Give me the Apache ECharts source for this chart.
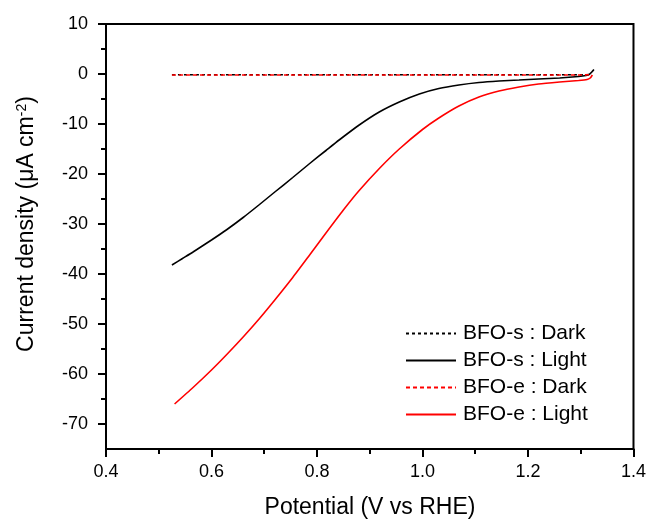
<!DOCTYPE html>
<html>
<head>
<meta charset="utf-8">
<script src="https://cdn.jsdelivr.net/npm/echarts@6/dist/echarts.min.js"></script>
<style>html,body{margin:0;padding:0;background:#fff}#c{width:649px;height:524px}</style>
</head>
<body>
<div id="c"></div>
<script>
// Data
var sDarkX = [0.525, 0.6, 0.7, 0.8, 0.9, 1.0, 1.1, 1.2, 1.3, 1.32];
var sDarkY = [-0.15, -0.15, -0.15, -0.15, -0.15, -0.15, -0.15, -0.15, -0.15, -0.1];
var sLightX = [0.525, 0.545, 0.565, 0.6, 0.628, 0.66, 0.691, 0.72, 0.754, 0.785, 0.817, 0.842, 0.88, 0.918, 0.956, 0.994, 1.031, 1.069, 1.107, 1.145, 1.183, 1.22, 1.26, 1.296, 1.31, 1.316, 1.321, 1.325];
var sLightY = [-38.2, -36.9, -35.6, -33.2, -31.2, -28.7, -26.1, -23.6, -20.7, -18.0, -15.3, -13.2, -10.2, -7.6, -5.6, -4.0, -2.9, -2.2, -1.7, -1.4, -1.2, -1.0, -0.8, -0.5, -0.3, -0.1, 0.4, 0.9];
var eDarkX = [0.525, 0.6, 0.7, 0.8, 0.9, 1.0, 1.1, 1.2, 1.3, 1.32];
var eDarkY = [-0.2, -0.2, -0.2, -0.2, -0.2, -0.2, -0.2, -0.2, -0.2, -0.15];
var eLightX = [0.530, 0.565, 0.6, 0.628, 0.66, 0.691, 0.72, 0.754, 0.786, 0.817, 0.85, 0.88, 0.92, 0.956, 1.0, 1.031, 1.069, 1.107, 1.145, 1.183, 1.22, 1.26, 1.296, 1.312, 1.318, 1.322];
var eLightY = [-66.0, -62.7, -59.2, -56.2, -52.6, -48.9, -45.2, -40.7, -36.2, -31.8, -27.2, -23.3, -18.7, -15.0, -11.1, -8.8, -6.4, -4.6, -3.4, -2.6, -2.0, -1.6, -1.3, -1.1, -0.8, -0.2];
var yTicks = [10, 0, -10, -20, -30, -40, -50, -60, -70];
var yMinorTicks = [5, -5, -15, -25, -35, -45, -55, -65];
var seriesNames = ['BFO-s : Dark', 'BFO-s : Light', 'BFO-e : Dark', 'BFO-e : Light'];
var xTitle = 'Potential (V vs RHE)';
var yTitle = '{a|Current density (μA cm}{s|-2}{a|)}';

function zip(xs, ys) { return xs.map(function (x, i) { return [x, ys[i]]; }); }

var FONT = 'Liberation Sans, Arial, sans-serif';
var chart = echarts.init(document.getElementById('c'), null, {renderer: 'canvas'});
chart.setOption({
  animation: false,
  backgroundColor: '#fff',
  grid: {left: 106, right: 14, top: 24, bottom: 75, show: true, borderColor: '#000', borderWidth: 2, backgroundColor: 'transparent'},
  legend: {
    orient: 'vertical', left: 400, top: 318, itemWidth: 50, itemHeight: 14, itemGap: 6,
    itemStyle: {opacity: 0},
    textStyle: {fontFamily: FONT, fontSize: 21, color: '#000', padding: [0, 0, 0, 2]},
    data: seriesNames
  },
  xAxis: [{
    type: 'value', min: 0.4, max: 1.4, interval: 0.2,
    axisLine: {onZero: false, lineStyle: {color: '#000', width: 2}},
    axisTick: {show: true, inside: false, length: 8, lineStyle: {width: 2, color: '#000'}},
    minorTick: {show: true, splitNumber: 2, length: 5, lineStyle: {width: 2, color: '#000'}},
    splitLine: {show: false},
    axisLabel: {fontFamily: FONT, fontSize: 18, color: '#000', margin: 14, formatter: function (v) { return v.toFixed(1); }}
  }],
  yAxis: [{
    type: 'value', min: -75, max: 10, position: 'left',
    axisLine: {onZero: false, lineStyle: {color: '#000', width: 2}},
    axisTick: {show: true, length: 8, customValues: yTicks, lineStyle: {width: 2, color: '#000'}},
    axisLabel: {fontFamily: FONT, fontSize: 18, color: '#000', margin: 18, customValues: yTicks},
    splitLine: {show: false}
  }, {
    type: 'value', min: -75, max: 10, position: 'left', offset: 0,
    axisLine: {show: false},
    axisTick: {show: true, length: 5, customValues: yMinorTicks, lineStyle: {width: 2, color: '#000'}},
    axisLabel: {show: false},
    splitLine: {show: false}
  }],
  graphic: [{
    type: 'text', x: 370, y: 508,
    style: {text: xTitle, font: '23px ' + FONT, fill: '#000', align: 'center', verticalAlign: 'middle'}
  }, {
    type: 'text', x: 27, y: 224, rotation: Math.PI / 2,
    style: {
      text: yTitle, align: 'center', verticalAlign: 'middle',
      rich: {
        a: {fontFamily: FONT, fontSize: 23, fill: '#000'},
        s: {fontFamily: FONT, fontSize: 14, fill: '#000', padding: [0, 0, 10, 0]}
      }
    }
  }],
  series: [
    {name: seriesNames[0], type: 'line', data: zip(sDarkX, sDarkY), showSymbol: false, symbol: 'none', color: '#000', lineStyle: {color: '#000', width: 1.5, type: [3, 3]}, z: 2},
    {name: seriesNames[1], type: 'line', data: zip(sLightX, sLightY), showSymbol: false, symbol: 'none', color: '#000', smooth: 0.2, lineStyle: {color: '#000', width: 1.6}, z: 3},
    {name: seriesNames[2], type: 'line', data: zip(eDarkX, eDarkY), showSymbol: false, symbol: 'none', color: '#ff0000', lineStyle: {color: '#ff0000', width: 1.6, type: [4, 3]}, z: 4},
    {name: seriesNames[3], type: 'line', data: zip(eLightX, eLightY), showSymbol: false, symbol: 'none', color: '#ff0000', smooth: 0.2, lineStyle: {color: '#ff0000', width: 1.6}, z: 3}
  ]
});
</script>
</body>
</html>
